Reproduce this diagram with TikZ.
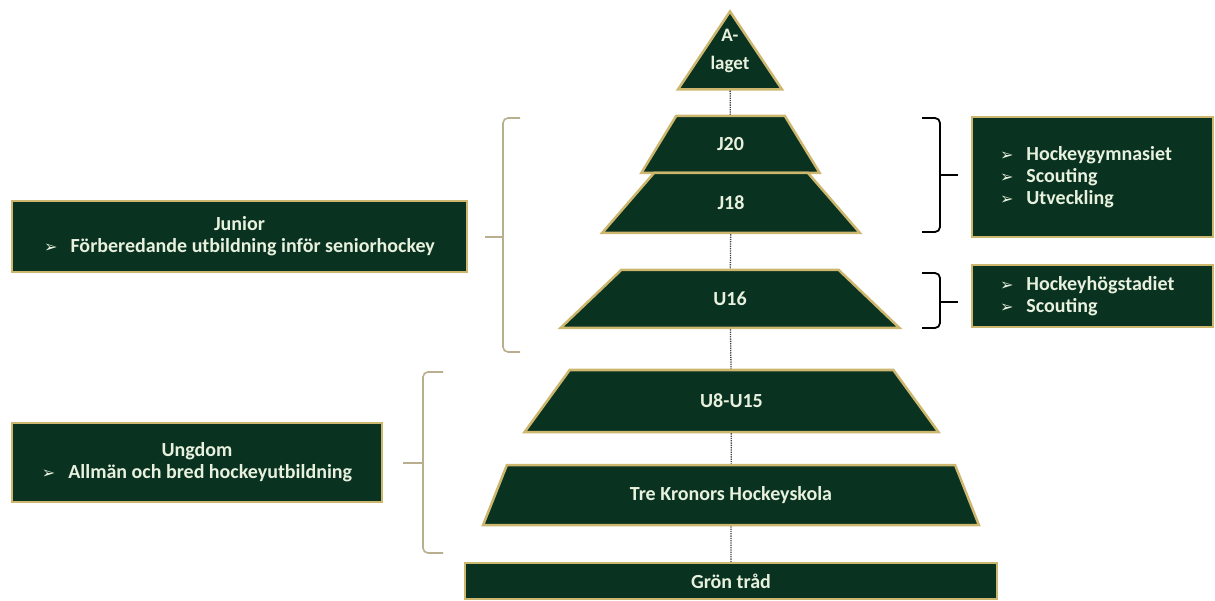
\documentclass[tikz,border=0pt]{standalone}
\usepackage{fontspec}
\setmainfont{Carlito}
\newfontfamily\symfont{DejaVu Sans}
\usetikzlibrary{shapes.geometric}

\definecolor{granskog}{HTML}{0A3220}
\definecolor{guld}{HTML}{CDB76E}
\definecolor{ljus}{HTML}{E8F0DE}
\definecolor{klammer}{HTML}{B9AE8E}

\newcommand{\pil}{{\symfont\fontsize{16}{16}\selectfont\char"27A2}\hspace{13pt}}

\begin{document}
\begin{tikzpicture}[
        x=1pt, y=-1pt,
        level/.style={trapezium, trapezium stretches=true, draw=guld, fill=granskog, line width=2.5pt, text=ljus, inner sep=0pt, font=\fontsize{20}{22}\selectfont\bfseries},
        topp/.style={isosceles triangle, shape border rotate=90, isosceles triangle stretches, draw=guld, fill=granskog, line width=2.5pt, text=ljus, inner sep=0pt, font=\fontsize{19}{28}\selectfont\bfseries},
        infobox/.style={rectangle, draw=guld, fill=granskog, line width=2.5pt, text=ljus, inner sep=0pt, font=\fontsize{20}{22}\selectfont\bfseries},
        link/.style={densely dotted, line width=1.3pt, gray!50!black},
        brace_left/.style={klammer, line width=1.6pt, rounded corners=5pt},
        brace_right/.style={black, line width=1.8pt, rounded corners=5pt}
    ]
        \useasboundingbox (0,0) rectangle (1215,601);

        % Pyramid
        \node[topp, minimum width=104pt, minimum height=78pt] (alaget) at (730,72) {\raisebox{2pt}[0pt][0pt]{\begin{tabular}[b]{@{}c@{}}A-\\laget\end{tabular}}};
        \node[level, trapezium left angle=57, trapezium right angle=57, minimum width=179pt, minimum height=57pt] (jtwenty) at (730.5,144.5) {J20};
        \node[level, trapezium left angle=57, trapezium right angle=57, minimum width=258pt, minimum height=60pt] (jeighteen) at (731,203) {J18};
        \node[level, trapezium left angle=56, trapezium right angle=56, minimum width=340pt, minimum height=58pt] (usixteen) at (730,299) {U16};
        \node[level, trapezium left angle=58, trapezium right angle=58, minimum width=417pt, minimum height=62pt] (ueight) at (731.5,401) {U8-U15};
        \node[level, trapezium left angle=58, trapezium right angle=58, minimum width=496pt, minimum height=60pt] (trekronor) at (731,495) {Tre Kronors Hockeyskola};
        \node[infobox, minimum width=532pt, minimum height=36pt] (grontrad) at (731,581) {Grön tråd};

        % Dotted links
        \draw[link] (alaget) -- (jtwenty);
        \draw[link] (jeighteen) -- (usixteen);
        \draw[link] (usixteen) -- (ueight);
        \draw[link] (ueight) -- (trekronor);
        \draw[link] (trekronor) -- (grontrad);

        % Left boxes
        \node[infobox, align=center, minimum width=455pt, minimum height=71pt] (junior) at (239.5,236.5) {Junior\\\pil Förberedande utbildning inför seniorhockey};
        \node[infobox, align=center, minimum width=370pt, minimum height=79pt] (ungdom) at (197,462.5) {Ungdom\\\pil Allmän och bred hockeyutbildning};

        % Right boxes
        \node[infobox, align=left, inner xsep=28pt, text width=185pt, minimum height=120pt] (gymnasiet) at (1092.5,177) {\pil Hockeygymnasiet\\\pil Scouting\\\pil Utveckling};
        \node[infobox, align=left, inner xsep=28pt, text width=185pt, minimum height=62pt] (hogstadiet) at (1092.5,296) {\pil Hockeyhögstadiet\\\pil Scouting};

        % Brackets
        \draw[brace_left] (520,118) -- (503,118) -- (503,352) -- (520,352);
        \draw[brace_left] (503,237) -- (485,237);
        \draw[brace_left] (443,372) -- (423,372) -- (423,553) -- (443,553);
        \draw[brace_left] (423,463) -- (403,463);
        \draw[brace_right] (922,118) -- (940,118) -- (940,232) -- (922,232);
        \draw[brace_right] (940,175) -- (958,175);
        \draw[brace_right] (922,273) -- (940,273) -- (940,328) -- (922,328);
        \draw[brace_right] (940,302) -- (958,302);

    \end{tikzpicture}
\end{document}
